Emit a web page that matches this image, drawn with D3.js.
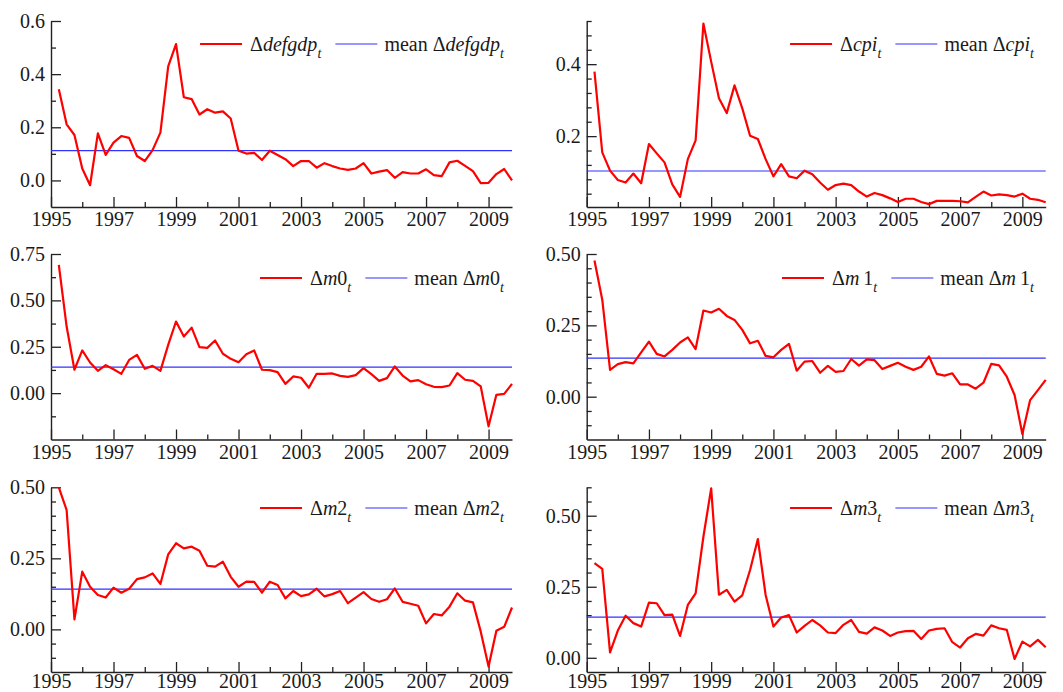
<!DOCTYPE html>
<html>
<head>
<meta charset="utf-8">
<script src="https://cdn.jsdelivr.net/npm/d3@7"></script>
<style>
  body { margin: 0; background: #fff; }
</style>
</head>
<body>
<script>
const width = 1063;
const height = 692;
const serif = "'Liberation Serif'";

// quarterly observations, 1995(2) .. 2009(4)
const startYear = 1995, startQuarter = 2, nObs = 59;
const quarters = d3.range(nObs).map(i => startYear + (startQuarter - 1 + i) / 4);
const yearTicks = [1995, 1997, 1999, 2001, 2003, 2005, 2007, 2009];
const minorYears = [1996, 1998, 2000, 2002, 2004, 2006, 2008];

const defgdp = [0.343,0.211,0.171,0.045,-0.018,0.177,0.096,0.142,0.167,0.160,0.092,0.073,0.114,0.180,0.429,0.513,0.313,0.306,0.248,0.268,0.255,0.260,0.233,0.112,0.101,0.104,0.077,0.112,0.096,0.080,0.054,0.073,0.073,0.048,0.065,0.054,0.045,0.040,0.045,0.065,0.026,0.033,0.039,0.010,0.031,0.026,0.026,0.042,0.020,0.016,0.068,0.074,0.055,0.035,-0.010,-0.009,0.024,0.043,0.000];
const cpi = [0.379,0.155,0.104,0.078,0.071,0.096,0.069,0.178,0.152,0.127,0.066,0.031,0.136,0.188,0.513,0.407,0.305,0.264,0.341,0.277,0.201,0.192,0.136,0.088,0.122,0.088,0.083,0.104,0.094,0.071,0.051,0.064,0.068,0.064,0.046,0.032,0.042,0.036,0.027,0.017,0.026,0.026,0.017,0.011,0.020,0.020,0.020,0.019,0.016,0.031,0.046,0.035,0.038,0.036,0.032,0.040,0.026,0.023,0.016];
const m0 = [0.691,0.359,0.126,0.230,0.165,0.120,0.151,0.129,0.104,0.179,0.206,0.131,0.147,0.120,0.260,0.386,0.305,0.353,0.248,0.244,0.284,0.212,0.185,0.167,0.210,0.230,0.126,0.124,0.113,0.050,0.090,0.083,0.029,0.104,0.104,0.106,0.093,0.088,0.097,0.135,0.102,0.066,0.081,0.144,0.095,0.063,0.070,0.048,0.034,0.032,0.041,0.108,0.072,0.066,0.036,-0.179,-0.009,-0.004,0.050];
const m1 = [0.477,0.340,0.094,0.114,0.121,0.117,0.155,0.193,0.150,0.141,0.164,0.190,0.208,0.167,0.302,0.295,0.308,0.283,0.269,0.234,0.187,0.196,0.143,0.138,0.164,0.185,0.091,0.123,0.125,0.084,0.108,0.087,0.090,0.132,0.109,0.131,0.128,0.097,0.108,0.119,0.105,0.094,0.105,0.141,0.080,0.074,0.082,0.043,0.043,0.028,0.049,0.115,0.110,0.070,0.006,-0.131,-0.012,0.023,0.059];
const m2 = [0.500,0.420,0.035,0.203,0.150,0.121,0.112,0.147,0.129,0.143,0.177,0.183,0.197,0.160,0.264,0.303,0.285,0.291,0.277,0.224,0.221,0.238,0.185,0.150,0.168,0.167,0.129,0.168,0.156,0.109,0.135,0.117,0.123,0.143,0.116,0.124,0.135,0.092,0.112,0.131,0.107,0.097,0.106,0.144,0.097,0.090,0.083,0.021,0.054,0.049,0.080,0.127,0.101,0.095,-0.008,-0.131,-0.005,0.009,0.077];
const m3 = [0.333,0.313,0.019,0.096,0.148,0.122,0.110,0.194,0.192,0.150,0.152,0.077,0.186,0.227,0.426,0.596,0.222,0.239,0.198,0.220,0.309,0.418,0.221,0.110,0.142,0.150,0.089,0.112,0.133,0.114,0.089,0.087,0.116,0.133,0.091,0.085,0.107,0.096,0.077,0.089,0.094,0.095,0.066,0.096,0.102,0.104,0.055,0.036,0.069,0.084,0.078,0.114,0.104,0.098,-0.004,0.057,0.040,0.063,0.037];

const means = { defgdp: 0.112, cpi: 0.103, m0: 0.140, m1: 0.135, m2: 0.142, m3: 0.143 };

const panels = [
  { key: "defgdp", values: defgdp, name: [["italic", "defgdp"]], col: 0, row: 0,
    yDomain: [-0.1, 0.6], major: [0, 0.2, 0.4, 0.6], minorStep: 0.1, fmt: ".1f" },
  { key: "cpi", values: cpi, name: [["italic", "cpi"]], col: 1, row: 0,
    yDomain: [0.003, 0.52], major: [0.2, 0.4], minorStep: 0.04, fmt: ".1f" },
  { key: "m0", values: m0, name: [["italic", "m"], ["normal", "0"]], col: 0, row: 1,
    yDomain: [-0.25, 0.75], major: [0, 0.25, 0.5, 0.75], minorStep: 0.125, fmt: ".2f" },
  { key: "m1", values: m1, name: [["italic", "m"], ["normal", "\u20091"]], col: 1, row: 1,
    yDomain: [-0.15, 0.5], major: [0, 0.25, 0.5], minorStep: 0.05, fmt: ".2f" },
  { key: "m2", values: m2, name: [["italic", "m"], ["normal", "2"]], col: 0, row: 2,
    yDomain: [-0.15, 0.5], major: [0, 0.25, 0.5], minorStep: 0.05, fmt: ".2f" },
  { key: "m3", values: m3, name: [["italic", "m"], ["normal", "3"]], col: 1, row: 2,
    yDomain: [-0.05, 0.6], major: [0, 0.25, 0.5], minorStep: 0.05, fmt: ".2f" }
];

const colX = [[51, 512], [586.7, 1045.7]];
const rowY = [[21, 207], [254, 439.5], [487.3, 672]];
const legendY = [44, 278, 508];
const legendRight = [505, 1035];

const svg = d3.select("body").append("svg").attr("width", width).attr("height", height);

function addLabel(t, prefix, name) {
  if (prefix) t.append("tspan").text(prefix);
  t.append("tspan").text("\u0394");
  name.forEach(([style, s]) => t.append("tspan").style("font-style", style).text(s));
  t.append("tspan").style("font-style", "italic").style("font-size", "14px").attr("dy", 7).text("t");
}

panels.forEach(p => {
  const [x0, x1] = colX[p.col];
  const [y0, y1] = rowY[p.row];
  const x = d3.scaleLinear().domain([1995, 2009.75]).range([x0, x1]);
  const y = d3.scaleLinear().domain(p.yDomain).range([y1, y0]);
  const g = svg.append("g");

  // minor ticks
  const minors = d3.range(Math.ceil(p.yDomain[0] / p.minorStep - 1e-6), Math.floor(p.yDomain[1] / p.minorStep + 1e-6) + 1)
    .map(k => +(k * p.minorStep).toFixed(4))
    .filter(v => !p.major.some(m => Math.abs(m - v) < 1e-6) && v > p.yDomain[0] + 1e-6);

  g.append("g").attr("transform", `translate(${x0},0)`)
    .call(d3.axisLeft(y).tickValues(minors).tickSize(-5).tickSizeOuter(0).tickFormat(""))
    .call(a => a.select(".domain").remove());
  g.append("g").attr("transform", `translate(0,${y1})`)
    .call(d3.axisBottom(x).tickValues(minorYears).tickSize(-5).tickSizeOuter(0).tickFormat(""))
    .call(a => a.select(".domain").remove());

  const ya = g.append("g").attr("transform", `translate(${x0},0)`)
    .call(d3.axisLeft(y).tickValues(p.major).tickSize(-10).tickSizeOuter(0).tickPadding(6).tickFormat(d3.format(p.fmt)));
  const xa = g.append("g").attr("transform", `translate(0,${y1})`)
    .call(d3.axisBottom(x).tickValues(yearTicks).tickSize(-10).tickSizeOuter(0).tickPadding(p.row === 2 ? 1.5 : 5).tickFormat(d3.format("d")));

  [ya, xa].forEach(a => {
    a.attr("font-family", null).attr("font-size", null);
    a.selectAll("text").style("font-family", serif).style("font-size", "20px").attr("fill", "#1a1a1a");
    a.select(".domain").attr("stroke", "#222").attr("stroke-width", 1.4);
  });
  g.selectAll("line").attr("stroke", "#222").attr("stroke-width", 1.3);

  // mean line
  g.append("line")
    .attr("x1", x0).attr("x2", x1)
    .attr("y1", y(means[p.key])).attr("y2", y(means[p.key]))
    .attr("stroke", "#3030ff").attr("stroke-width", 1.2);

  // series
  const line = d3.line().x((d, i) => x(quarters[i])).y(d => y(d));
  g.append("path").datum(p.values)
    .attr("d", line).attr("fill", "none")
    .attr("stroke", "#ff0000").attr("stroke-width", 2.2).attr("stroke-linejoin", "round");

  // legend, right aligned
  const ly = legendY[p.row];
  const lg = g.append("g");
  const t1 = lg.append("text").style("font-family", serif).style("font-size", "20px").attr("fill", "#1a1a1a").attr("y", ly + 7);
  addLabel(t1, null, p.name);
  const t2 = lg.append("text").style("font-family", serif).style("font-size", "20px").attr("fill", "#1a1a1a").attr("y", ly + 7);
  addLabel(t2, "mean ", p.name);
  const w1 = t1.node().getBBox().width, w2 = t2.node().getBBox().width;
  const right = legendRight[p.col];
  const t2x = right - w2;
  const blueEnd = t2x - 7, blueStart = blueEnd - 42;
  const t1x = blueStart - 13 - w1;
  const redEnd = t1x - 8, redStart = redEnd - 42;
  t1.attr("x", t1x);
  t2.attr("x", t2x);
  lg.append("line").attr("x1", redStart).attr("x2", redEnd).attr("y1", ly).attr("y2", ly)
    .attr("stroke", "#ff0000").attr("stroke-width", 2.2);
  lg.append("line").attr("x1", blueStart).attr("x2", blueEnd).attr("y1", ly).attr("y2", ly)
    .attr("stroke", "#3030ff").attr("stroke-width", 1.2);
});
</script>
</body>
</html>
